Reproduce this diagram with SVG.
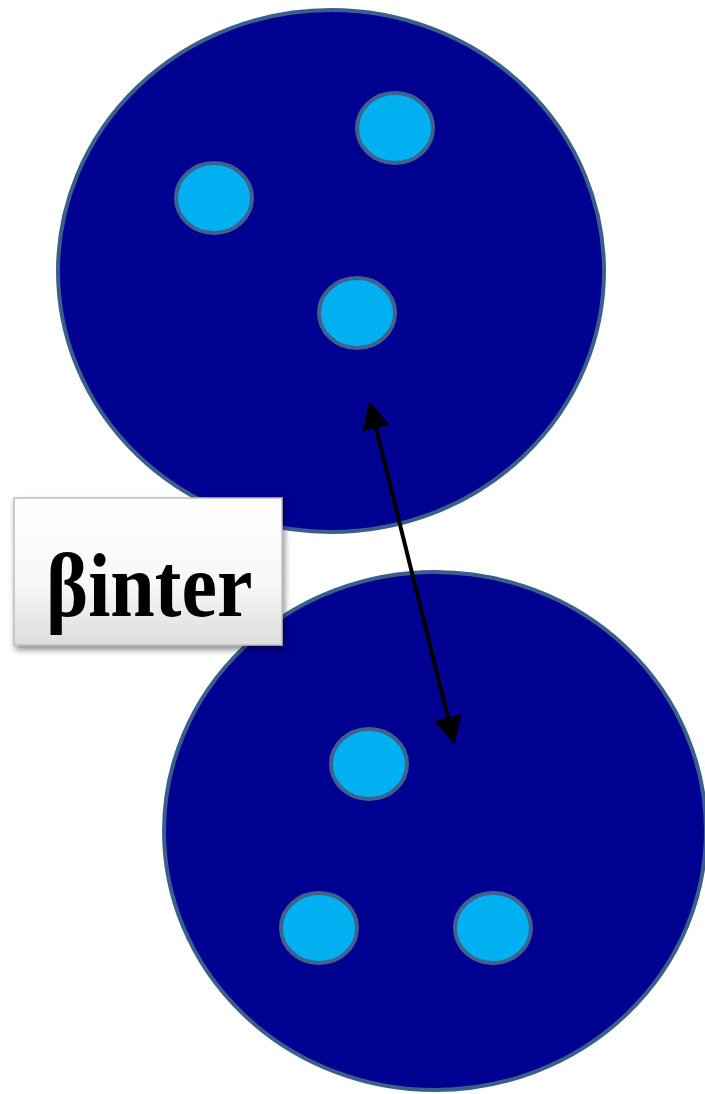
<svg xmlns="http://www.w3.org/2000/svg" width="705" height="1094" viewBox="0 0 705 1094">
<style>
.big{fill:#000091;stroke:#3b5f8c;stroke-width:4}
.small{fill:#00b0f0;stroke:#3d6290;stroke-width:4}
.conn{stroke:#000;stroke-width:4;fill:none}
.lbl{font-family:"Liberation Serif","Times New Roman",serif;font-weight:bold;fill:#000}
</style>
<defs>
<marker id="ah" viewBox="0 0 10 10" refX="9" refY="5" markerWidth="7" markerHeight="7" markerUnits="strokeWidth" orient="auto-start-reverse">
<path d="M0,0 L10,5 L0,10 z" fill="#000"/>
</marker>
<linearGradient id="boxg" x1="0" y1="0" x2="0" y2="1">
<stop offset="0" stop-color="#ffffff"/>
<stop offset="0.6" stop-color="#f7f7f7"/>
<stop offset="1" stop-color="#dcdcdc"/>
</linearGradient>
<filter id="sh" x="-10%" y="-10%" width="125%" height="130%">
<feDropShadow dx="2" dy="4" stdDeviation="3" flood-color="#000" flood-opacity="0.45"/>
</filter>
</defs>
<g id="cluster-top">
<ellipse class="big" cx="331" cy="271" rx="273" ry="261"/>
<ellipse class="small" cx="214" cy="198" rx="38" ry="35"/>
<ellipse class="small" cx="395" cy="128" rx="38" ry="35"/>
<ellipse class="small" cx="357" cy="313" rx="38" ry="35"/>
</g>
<g id="cluster-bottom">
<ellipse class="big" cx="435" cy="831" rx="271" ry="259"/>
<ellipse class="small" cx="369" cy="764" rx="38" ry="35"/>
<ellipse class="small" cx="319" cy="928" rx="38" ry="35"/>
<ellipse class="small" cx="493" cy="928" rx="38" ry="35"/>
</g>
<g id="connectors">
<line class="conn" x1="370" y1="404" x2="454" y2="742" marker-start="url(#ah)" marker-end="url(#ah)"/>
</g>
<g id="label">
<rect x="14" y="498" width="268" height="147" fill="url(#boxg)" stroke="#bdbdbd" stroke-width="1.5" filter="url(#sh)"/>
<text class="lbl" font-size="80" transform="translate(46,616) scale(1,1.15)">βinter</text>
</g>
</svg>
